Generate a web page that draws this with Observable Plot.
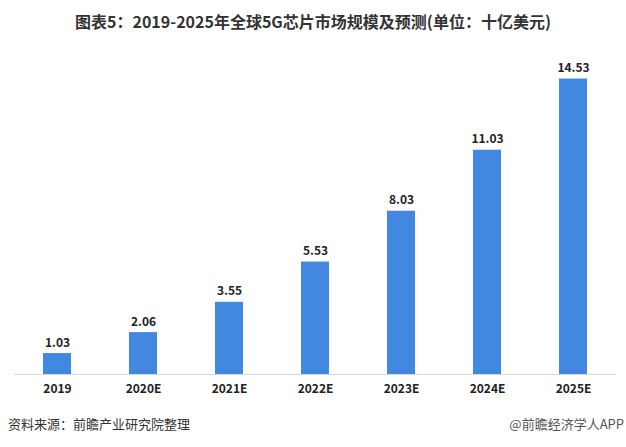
<!DOCTYPE html>
<html>
<head>
<meta charset="utf-8">
<script src="https://cdn.jsdelivr.net/npm/d3@7"></script>
<script src="https://cdn.jsdelivr.net/npm/@observablehq/plot@0.6"></script>
<style>
  html, body { margin: 0; padding: 0; background: #fff; }
  body { width: 626px; font-family: "Noto Sans CJK SC", "Noto Sans", sans-serif; }
  #title { height: 42px; line-height: 42px; text-align: center; font-size: 16px; font-weight: bold; color: #333; letter-spacing: 0px; }
  #chart svg { display: block; }
  #footer { position: relative; height: 24px; line-height: 24px; font-size: 13px; color: #333; }
  #footer .left { position: absolute; left: 8px; top: 0; }
  #footer .right { position: absolute; right: 2px; top: 0; color: #555; }
</style>
</head>
<body>
<div id="title">图表5：2019-2025年全球5G芯片市场规模及预测(单位：十亿美元)</div>
<div id="chart"></div>
<div id="footer"><span class="left">资料来源：前瞻产业研究院整理</span><span class="right">@前瞻经济学人APP</span></div>
<script>
const years = ["2019", "2020E", "2021E", "2022E", "2023E", "2024E", "2025E"];
const values = [1.03, 2.06, 3.55, 5.53, 8.03, 11.03, 14.53];
const labels = ["1.03", "2.06", "3.55", "5.53", "8.03", "11.03", "14.53"];

const data = years.map((y, i) => ({year: y, value: values[i], label: labels[i]}));

const chart = Plot.plot({
  width: 626,
  height: 370,
  marginLeft: 14,
  marginRight: 10,
  marginTop: 27,
  marginBottom: 38,
  style: {fontFamily: '"Noto Sans CJK SC", "Noto Sans", sans-serif', background: "#fff"},
  x: {domain: years, paddingInner: 0.68, paddingOuter: 0.34, label: null},
  y: {domain: [0, 15], axis: null},
  marks: [
    Plot.barY(data, {x: "year", y: "value", fill: "#4388e0"}),
    Plot.ruleY([0], {stroke: "#d9d9d9", strokeWidth: 1.2}),
    Plot.text(data, {x: "year", y: "value", text: "label", lineAnchor: "bottom", dy: -7, fontSize: 12, fontWeight: "bold", fill: "#222"}),
    Plot.axisX({tickSize: 0, tickPadding: 10, fontSize: 12, fontWeight: "bold", color: "#222", label: null})
  ]
});
document.getElementById("chart").appendChild(chart);
</script>
</body>
</html>
